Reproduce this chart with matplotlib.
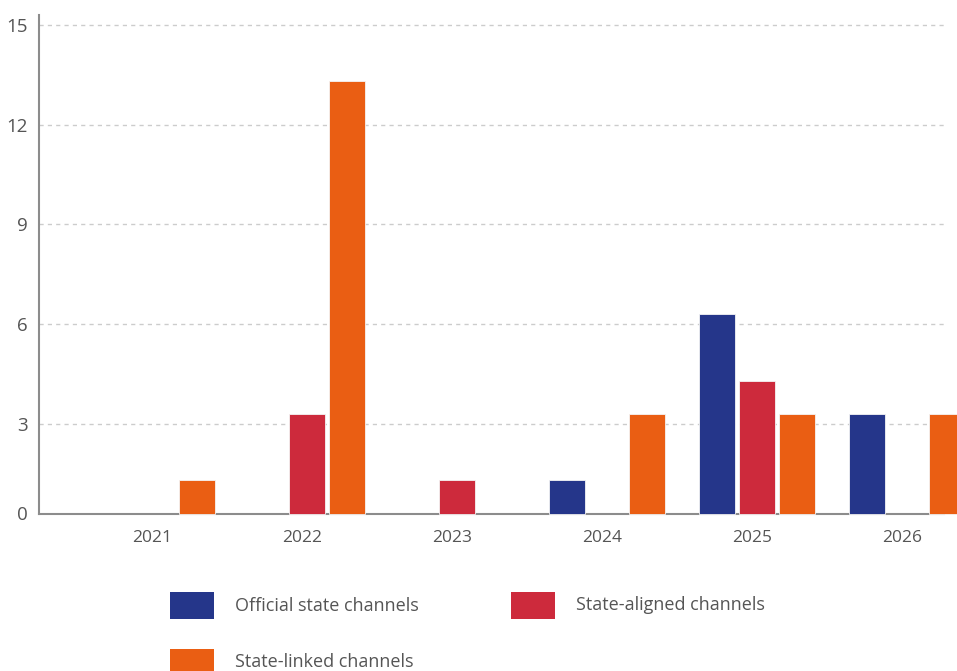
import matplotlib
matplotlib.use("Agg")
import matplotlib.pyplot as plt
import numpy as np
from matplotlib.patches import Rectangle

years = ["2021", "2022", "2023", "2024", "2025", "2026"]
official = [0, 0, 0, 1, 6, 3]
aligned = [0, 3, 1, 0, 4, 0]
linked = [1, 13, 0, 3, 3, 3]
series_names = ["Official state channels", "State-aligned channels", "State-linked channels"]
colors = ["#25368A", "#CD2A3C", "#EA5E13"]
ytick_labels = [0, 3, 6, 9, 12, 15]

plt.rcParams['font.family'] = ['Open Sans', 'DejaVu Sans']
TXT = "#555555"

fig = plt.figure(figsize=(9.57, 6.71), dpi=100)
W, H = 957, 671
ax = fig.add_axes([38.5 / W, 1 - 513.5 / H, (944 - 38.5) / W, (513.5 - 15) / H])

x = np.arange(len(years))
bw = 0.24
off = 0.267
for i, (vals, c) in enumerate(zip([official, aligned, linked], colors)):
    edges = ["#f4f4f4" if v > 0 else "none" for v in vals]
    ax.bar(x + (i - 1) * off, vals, width=bw, color=c, edgecolor=edges,
           linewidth=0.6, clip_on=False, zorder=3)

ax.set_xlim(-0.79, 5.247)
ax.set_ylim(0, 15)

# gridlines as drawn in the reference sit slightly below the nominal values
tick_pos = [0] + [t - 0.3 for t in ytick_labels[1:]]
ax.set_yticks(tick_pos)
ax.set_yticklabels([str(t) for t in ytick_labels], fontsize=13.5, color=TXT)
ax.set_xticks(x - 0.03)
ax.set_xticklabels(years, fontsize=12.5, color=TXT)
ax.tick_params(axis="both", length=0)
ax.tick_params(axis="y", pad=8)
ax.tick_params(axis="x", pad=12)

ax.yaxis.grid(True, color="#cccccc", linestyle=(0, (3, 3)), linewidth=1, zorder=0)
ax.set_axisbelow(True)
for s in ["top", "right"]:
    ax.spines[s].set_visible(False)
for s in ["left", "bottom"]:
    ax.spines[s].set_color("#8c8c8c")
    ax.spines[s].set_linewidth(1.5)

# legend (manual, matching layout)
legend_items = [
    (170, 592, 235, 606),
    (511, 592, 576, 605),
    (170, 649, 235, 662),
]
for (px, py, tx, ty), name, c in zip(legend_items, series_names, colors):
    fig.patches.append(Rectangle((px / W, 1 - (py + 27) / H), 44 / W, 27 / H,
                                 transform=fig.transFigure, facecolor=c,
                                 edgecolor="none"))
    fig.text(tx / W, 1 - ty / H, name, fontsize=13, color=TXT, va="center", ha="left")

fig.savefig("out.png", dpi=100)
